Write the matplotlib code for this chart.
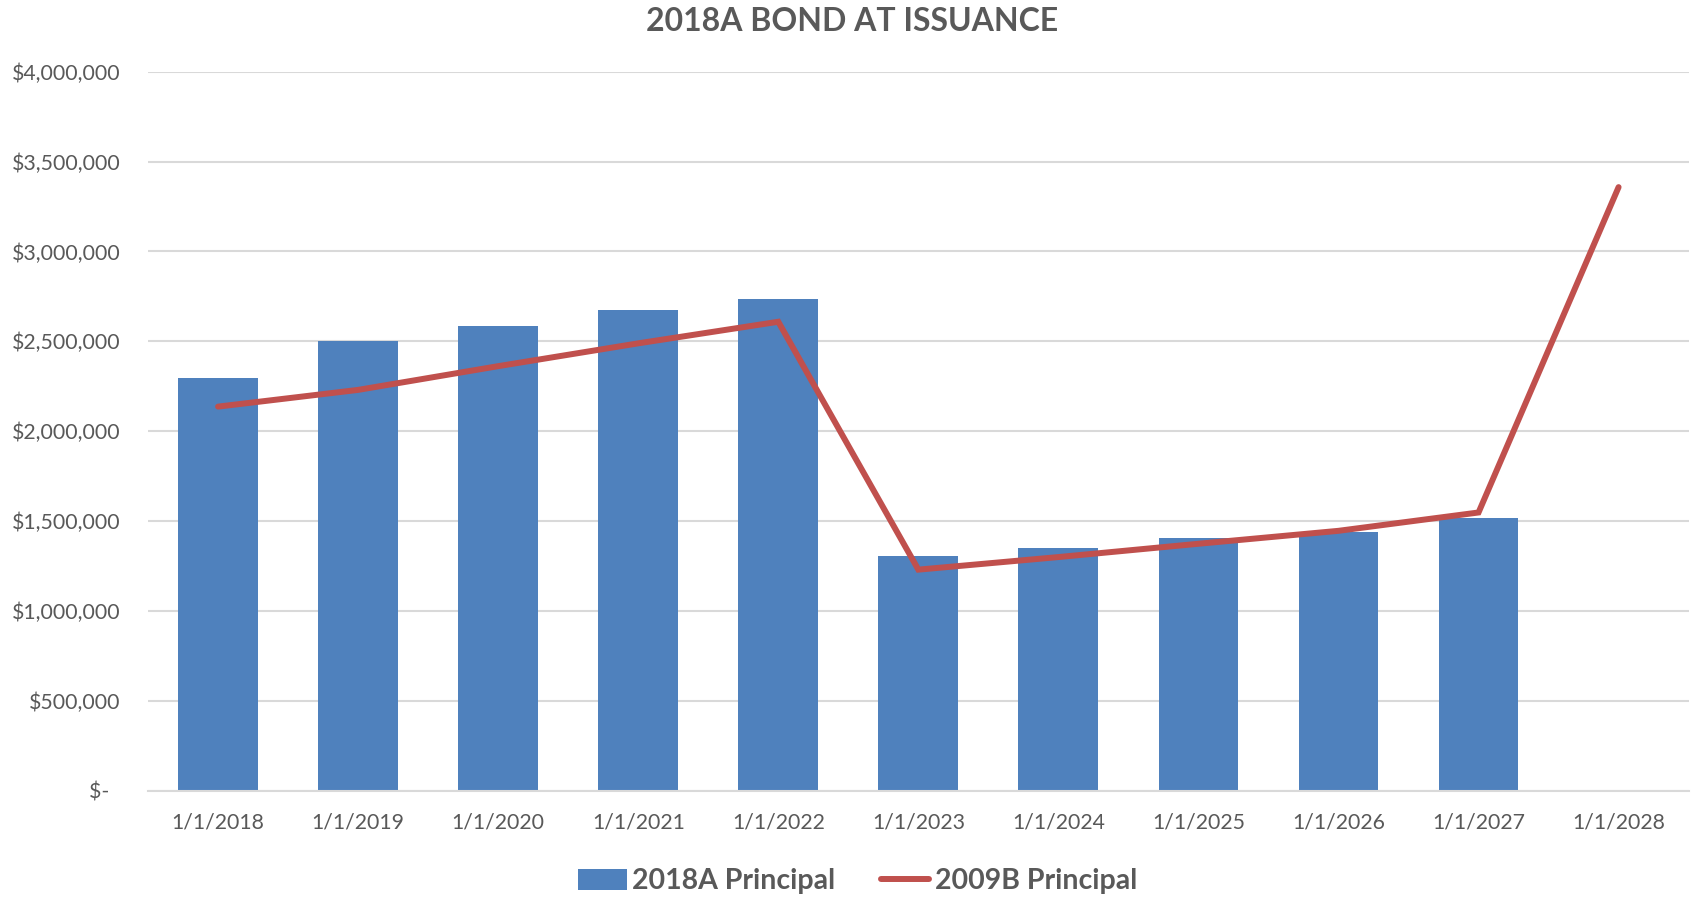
import numpy as np
import matplotlib
matplotlib.use("Agg")
import matplotlib.pyplot as plt
from matplotlib.ticker import FuncFormatter

plt.rcParams['font.family'] = ['Lato', 'DejaVu Sans']

# данные
dates = ['1/1/2018', '1/1/2019', '1/1/2020', '1/1/2021', '1/1/2022', '1/1/2023',
         '1/1/2024', '1/1/2025', '1/1/2026', '1/1/2027', '1/1/2028']
principal_2018a = [2294000, 2504000, 2587000, 2672000, 2737000, 1307000,
                   1348000, 1404000, 1441000, 1515000, np.nan]
principal_2009b = [2137000, 2230000, 2362000, 2489000, 2609000, 1230000,
                   1300000, 1374000, 1446000, 1548000, 3358000]
yticks = [0, 500000, 1000000, 1500000, 2000000, 2500000, 3000000, 3500000, 4000000]

grey = '#595959'
blue = '#4F81BD'
red = '#C0504D'

fig = plt.figure(figsize=(16.92, 9), dpi=100)
ax = fig.add_axes([0.0875, 0.1214, 0.9105, 0.7989])

x = np.arange(len(dates))
bars = ax.bar(x, principal_2018a, width=0.57, color=blue, label='2018A Principal', zorder=2)
line, = ax.plot(x, principal_2009b, color=red, lw=4.3, solid_capstyle='round',
                solid_joinstyle='miter', label='2009B Principal', zorder=3)

ax.set_xlim(-0.5, len(dates) - 0.5)
ax.set_ylim(0, 4000000)
ax.set_yticks(yticks)

def money(v, pos):
    if v == 0:
        return '$-  '
    return '${:,.0f}'.format(v)

ax.yaxis.set_major_formatter(FuncFormatter(money))
ax.set_xticks(x)
ax.set_xticklabels(dates)
ax.tick_params(axis='both', length=0, colors=grey, labelsize=15.3)
ax.tick_params(axis='x', pad=16)
ax.tick_params(axis='y', pad=20)

ax.grid(axis='y', color='#D9D9D9', lw=1.5, zorder=0)
for s in ['top', 'right', 'left']:
    ax.spines[s].set_visible(False)
ax.spines['bottom'].set_color('#D9D9D9')
ax.spines['bottom'].set_linewidth(1.5)

fig.text(0.5035, 0.976, '2018A BOND AT ISSUANCE', ha='center', va='center',
         fontsize=23, fontweight='bold', color=grey)

leg = fig.legend([bars, line], ['2018A Principal', '2009B Principal'],
                 loc='center', bbox_to_anchor=(0.507, 0.021), ncol=2, frameon=False,
                 prop={'size': 20.5, 'weight': 'bold'}, handlelength=1.7,
                 handleheight=0.75, handletextpad=0.2, columnspacing=1.6)
for t in leg.get_texts():
    t.set_color(grey)

fig.savefig('out.png', dpi=100)
